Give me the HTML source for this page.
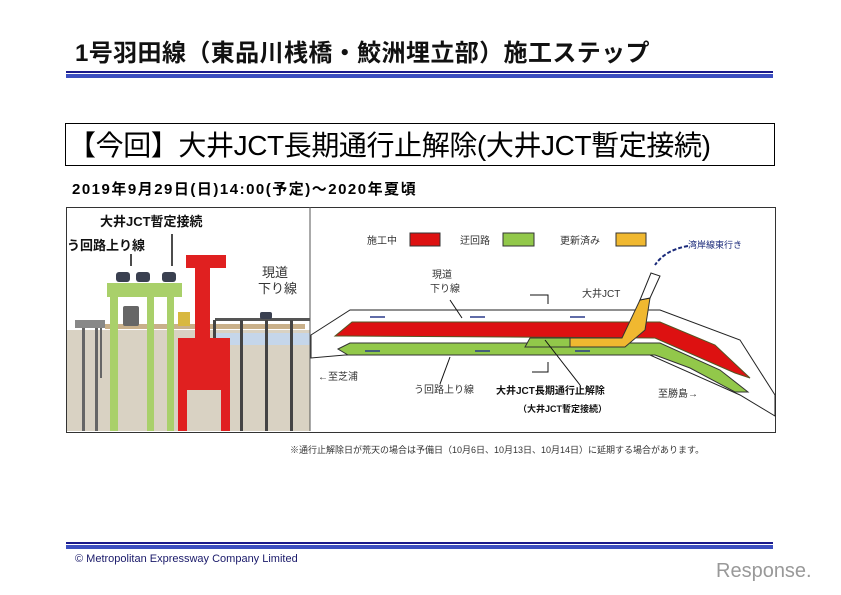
<!DOCTYPE html>
<html><head><meta charset="utf-8"><style>
body{margin:0;width:841px;height:595px;background:#fff;position:relative;overflow:hidden;font-family:"Liberation Sans","Noto Sans CJK JP",sans-serif}
.a{position:absolute;white-space:nowrap}
</style></head><body>
<div class="a" style="left:75px;top:33px;font-size:24px;font-weight:bold;color:#111;letter-spacing:0.4px">1号羽田線（東品川桟橋・鮫洲埋立部）施工ステップ</div>
<div class="a" style="left:66px;top:71px;width:707px;height:2px;background:#1a1a8c"></div>
<div class="a" style="left:66px;top:74px;width:707px;height:4px;background:#3c4fc0"></div>
<div class="a" style="left:65px;top:123px;width:708px;height:41px;border:1px solid #000;"></div>
<div class="a" style="left:68px;top:124px;font-size:28px;color:#000;letter-spacing:-0.4px">【今回】大井JCT長期通行止解除(大井JCT暫定接続)</div>
<div class="a" style="left:72px;top:178px;font-size:15px;font-weight:bold;color:#000;letter-spacing:1.5px">2019年9月29日(日)14:00(予定)～2020年夏頃</div>
<div class="a" style="left:66px;top:207px;width:708px;height:224px;border:1px solid #333"></div>
<svg class="a" style="left:0;top:0" width="841" height="595">
<rect x="67" y="330" width="243" height="101" fill="#d9d2c3"/>
<rect x="215" y="333" width="95" height="12" fill="#c5d6ea"/>
<rect x="75" y="320" width="30" height="8" fill="#888"/>
<rect x="82" y="328" width="3" height="103" fill="#666"/><rect x="95" y="328" width="3" height="103" fill="#666"/><rect x="100" y="328" width="2" height="50" fill="#666"/>
<rect x="105" y="324" width="200" height="5" fill="#c9b08a"/>
<rect x="215" y="318" width="95" height="3" fill="#555"/>
<g fill="#444"><rect x="240" y="320" width="3" height="111"/><rect x="265" y="320" width="3" height="111"/><rect x="290" y="320" width="3" height="111"/><rect x="213" y="320" width="3" height="111"/></g>
<rect x="107" y="283" width="75" height="14" fill="#a9d06a"/>
<rect x="110" y="290" width="8" height="141" fill="#a9d06a"/><rect x="147" y="290" width="7" height="141" fill="#a9d06a"/><rect x="167" y="290" width="7" height="141" fill="#a9d06a"/>
<g fill="#3a4050"><rect x="116" y="272" width="14" height="10" rx="3"/><rect x="136" y="272" width="14" height="10" rx="3"/><rect x="162" y="272" width="14" height="10" rx="3"/><rect x="123" y="306" width="16" height="20" rx="2" fill="#666"/><rect x="260" y="312" width="12" height="7" rx="2"/></g>
<rect x="186" y="255" width="40" height="13" fill="#e02020"/>
<rect x="195" y="255" width="15" height="90" fill="#e02020"/>
<rect x="178" y="338" width="52" height="93" fill="#e02020"/>
<rect x="187" y="390" width="34" height="41" fill="#d9d2c3"/>
<rect x="178" y="312" width="12" height="14" fill="#d8b840"/>
<g font-size="13" font-weight="bold" fill="#111"><text x="100" y="226">大井JCT暫定接続</text><text x="67" y="250">う回路上り線</text></g>
<g font-size="13" fill="#333"><text x="262" y="277">現道</text><text x="258" y="293">下り線</text></g>
<g stroke="#111" stroke-width="1.5"><line x1="131" y1="254" x2="131" y2="266"/><line x1="172" y1="234" x2="172" y2="266"/></g>
<line x1="310" y1="207" x2="310" y2="431" stroke="#555"/>
<g font-size="10" fill="#333"><text x="367" y="244">施工中</text><text x="460" y="244">迂回路</text><text x="560" y="244">更新済み</text><text x="688" y="248" fill="#1a2a7a" font-size="9">湾岸線東行き</text>
<text x="432" y="278">現道</text><text x="430" y="292">下り線</text><text x="582" y="297">大井JCT</text>
<text x="318" y="380">←至芝浦</text><text x="414" y="393">う回路上り線</text><text x="658" y="397">至勝島→</text></g>
<g font-size="10" font-weight="bold" fill="#111"><text x="496" y="394">大井JCT長期通行止解除</text><text x="518" y="412" font-size="9">（大井JCT暫定接続）</text></g>
<rect x="410" y="233" width="30" height="13" fill="#dd1111" stroke="#333"/>
<rect x="503" y="233" width="31" height="13" fill="#92c84a" stroke="#333"/>
<rect x="616" y="233" width="30" height="13" fill="#f0b830" stroke="#333"/>
<polygon points="311,335 350,310 660,310 740,340 775,395 775,416 740,395 650,355 345,355 311,358" fill="#fff" stroke="#222"/>
<polygon points="335,336 352,322 660,322 715,345 750,378 735,373 655,338 345,336" fill="#dd1111" stroke="#552"/>
<polygon points="338,349 350,343 660,343 720,370 748,392 735,392 690,368 655,355 348,355" fill="#92c84a" stroke="#333"/>
<polygon points="525,347 530,338 570,338 570,347" fill="#92c84a" stroke="#333"/>
<polygon points="570,338 622,338 640,300 650,298 645,330 625,347 570,347" fill="#f0b830" stroke="#333"/>
<polygon points="640,300 651,273 660,276 650,298" fill="#fff" stroke="#222"/>
<path d="M688 246 Q665 250 655 265" stroke="#1a2a7a" stroke-width="2" stroke-dasharray="4,2" fill="none"/>
<g stroke="#2a3a8a" stroke-width="1.5"><line x1="370" y1="317" x2="385" y2="317"/><line x1="470" y1="317" x2="485" y2="317"/><line x1="570" y1="317" x2="585" y2="317"/><line x1="380" y1="351" x2="365" y2="351"/><line x1="490" y1="351" x2="475" y2="351"/><line x1="590" y1="351" x2="575" y2="351"/></g>
<g fill="none" stroke="#111"><path d="M548 304 V295 H530"/><path d="M548 362 V372 H532"/><line x1="450" y1="300" x2="462" y2="318"/><line x1="450" y1="357" x2="440" y2="384"/><line x1="545" y1="340" x2="580" y2="385"/></g>
</svg>
<div class="a" style="left:290px;top:443px;font-size:9px;color:#333">※通行止解除日が荒天の場合は予備日（10月6日、10月13日、10月14日）に延期する場合があります。</div>
<div class="a" style="left:66px;top:542px;width:707px;height:2px;background:#1a1a8c"></div>
<div class="a" style="left:66px;top:545px;width:707px;height:4px;background:#3c4fc0"></div>
<div class="a" style="left:75px;top:553px;font-size:11px;color:#1a1a6a">© Metropolitan Expressway Company Limited</div>
<div class="a" style="left:716px;top:560px;font-size:20px;color:#999">Response.</div>
</body></html>
